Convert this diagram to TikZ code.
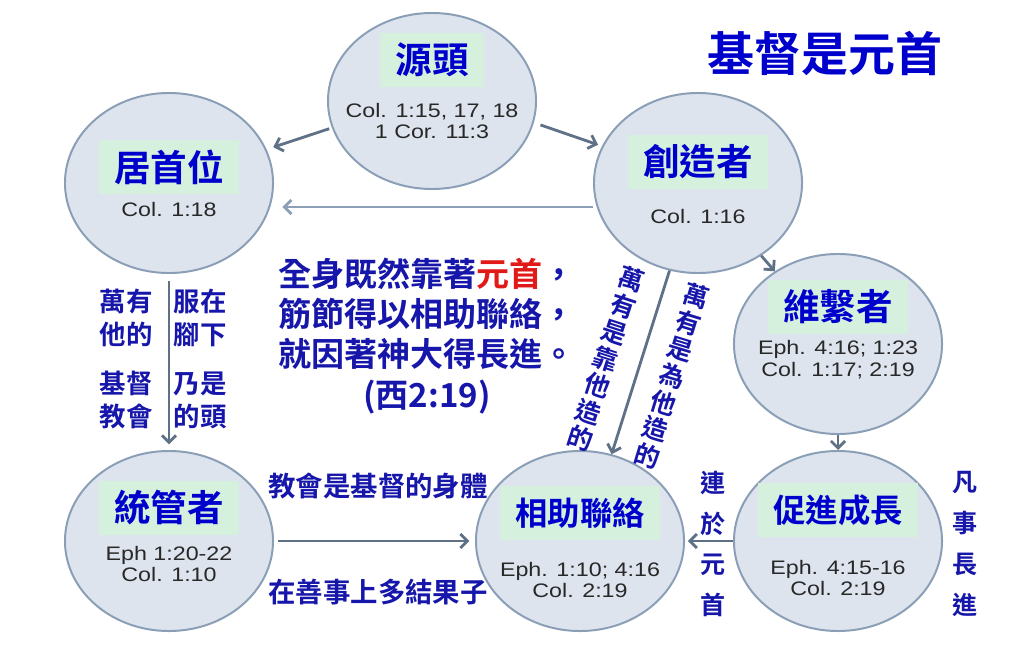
\documentclass[tikz,border=0pt]{standalone}
\usepackage{fontspec}
\usepackage{tikz}
\usetikzlibrary{calc, shapes.geometric, arrows.meta, positioning}
\newfontfamily\cjk{Noto Sans CJK TC}[BoldFont={* Bold}]
\newfontfamily\reffont{Liberation Sans}[FakeStretch=1.19]
\definecolor{hubfill}{RGB}{221,228,238}
\definecolor{hubline}{RGB}{138,158,182}
\definecolor{tagfill}{RGB}{214,240,222}
\definecolor{linkgray}{RGB}{94,113,134}
\definecolor{linklight}{RGB}{140,160,182}
\definecolor{headblue}{RGB}{0,0,205}
\definecolor{textblue}{RGB}{22,22,170}
\definecolor{headred}{RGB}{225,25,25}
\definecolor{refgray}{RGB}{40,40,40}

\begin{document}
\begin{tikzpicture}[
			x = 0.025cm, y = -0.025cm,
			hub/.style = {draw = hubline, line width = 1.4pt, fill = hubfill, ellipse, inner sep = 0pt,
				minimum width = 5.2cm, minimum height = 4.5cm},
			tag/.style = {fill = tagfill, inner xsep = 0.38cm, inner ysep = 0pt, minimum height = 1.35cm,
				text = headblue, font = \cjk\bfseries\fontsize{26}{26}\selectfont},
			tag4/.style = {tag, font = \cjk\bfseries\fontsize{23}{23}\selectfont},
			refs/.style = {align = center, inner sep = 0pt, text = refgray,
				font = \reffont\fontsize{13.9}{15.6}\selectfont},
			link/.style = {draw = linkgray, line width = 2pt, -{Straight Barb[length = 5pt, width = 10pt]}},
			note/.style = {text = textblue, align = center, inner sep = 0pt,
				font = \cjk\bfseries\fontsize{18.8}{23.5}\selectfont},
			column/.style = {note, font = \cjk\bfseries\fontsize{18}{19.8}\selectfont}]
			\useasboundingbox (0,0) rectangle (1024,650);
			\fill[white] (0,0) rectangle (1024,650);

			% Ellipses
			\node[hub, minimum height = 4.4cm] (src) at (432,101) {};
			\node[hub] (head) at (169,183) {};
			\node[hub] (cre) at (698,183) {};
			\node[hub] (bind) at (838,344) {};
			\node[hub] (grow) at (838,541) {};
			\node[hub] (join) at (580,541) {};
			\node[hub] (gov) at (169,541) {};

			\node[tag] (srcT) at ($(src)+(0,-41)$) {源頭};
			\node[refs] (srcR) at ($(src)+(0,20)$) {Col. 1:15, 17, 18\\1 Cor. 11:3};
			\node[tag] (headT) at ($(head)+(0,-16)$) {居首位};
			\node[refs] (headR) at ($(head)+(0,27)$) {Col. 1:18};
			\node[tag] (creT) at ($(cre)+(0,-21)$) {創造者};
			\node[refs] (creR) at ($(cre)+(0,34)$) {Col. 1:16};
			\node[tag] (bindT) at ($(bind)+(0,-37)$) {維繫者};
			\node[refs] (bindR) at ($(bind)+(0,16)$) {Eph. 4:16; 1:23\\Col. 1:17; 2:19};
			\node[tag4] (growT) at ($(grow)+(0,-31)$) {促進成長};
			\node[refs] (growR) at ($(grow)+(0,37)$) {Eph. 4:15-16\\Col. 2:19};
			\node[tag4] (joinT) at ($(join)+(0,-28)$) {相助聯絡};
			\node[refs] (joinR) at ($(join)+(0,39)$) {Eph. 1:10; 4:16\\Col. 2:19};
			\node[tag] (govT) at ($(gov)+(0,-33)$) {統管者};
			\node[refs] (govR) at ($(gov)+(0,23)$) {Eph 1:20-22\\Col. 1:10};

			% Arrows
			\draw[link, shorten <= 2pt, shorten >= 5pt] (src.195) -- (head.19);
			\draw[link, shorten <= 5pt, shorten >= 3pt] (src.-12) -- (cre.159);
			\draw[link, draw = linklight, shorten >= 6pt] ([yshift = -0.6cm]cre.west) -- ([yshift = -0.6cm]head.east);
			\draw[link, shorten <= 5pt, shorten >= 4pt] (head) -- (gov);
			\draw[link] (cre.252) -- (join.70);
			\draw[link] (cre) -- (bind);
			\draw[link] (bind) -- (grow);
			\draw[link, shorten <= 3pt, shorten >= 4pt] (gov) -- (join);
			\draw[link, shorten >= 2pt] (grow) -- (join);

			% Labels
			\node[text = headblue, font = \cjk\bfseries\fontsize{33.4}{33.4}\selectfont] (title) at (825,54) {基督是元首};
			\node[note, font = \cjk\bfseries\fontsize{23.5}{28.5}\selectfont] (verse) at (427,336)
				{全身既然靠著\textcolor{headred}{元首}，\\筋節得以相助聯絡，\\就因著神大得長進。\\(西2:19)};
			\node[note] (allL) at (126,318) {萬有\\他的};
			\node[note] (allR) at (200,318) {服在\\腳下};
			\node[note] (chL) at (126,400) {基督\\教會};
			\node[note] (chR) at (200,400) {乃是\\的頭};
			\node[column, rotate = -18] (byHim) at (606,359) {萬\\有\\是\\靠\\他\\造\\的};
			\node[column, rotate = -17] (forHim) at (672,376) {萬\\有\\是\\為\\他\\造\\的};
			\node[note, font = \cjk\bfseries\fontsize{19.5}{19.5}\selectfont] (body) at (378,486) {教會是基督的身體};
			\node[note, font = \cjk\bfseries\fontsize{19.5}{19.5}\selectfont] (fruit) at (378,592) {在善事上多結果子};
			\node[column, font = \cjk\bfseries\fontsize{17.8}{29}\selectfont] (holdHead) at (713,544) {連\\於\\元\\首};
			\node[column, font = \cjk\bfseries\fontsize{17.8}{29}\selectfont] (growAll) at (965,544) {凡\\事\\長\\進};
		\end{tikzpicture}
\end{document}
